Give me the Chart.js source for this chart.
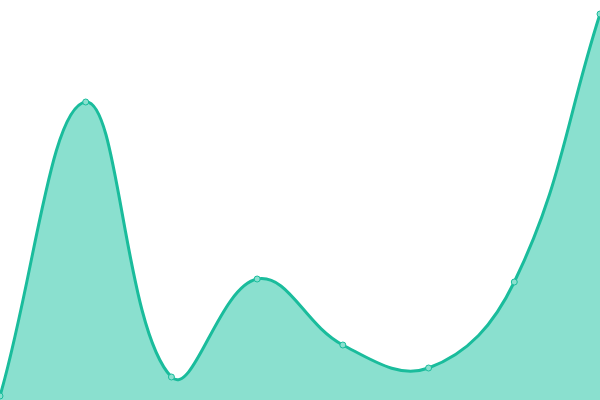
<!DOCTYPE html>
<html>
<head>
<meta charset="utf-8">
<script src="https://cdn.jsdelivr.net/npm/chart.js@4"></script>
<style>
  html, body { margin: 0; padding: 0; background: #fff; }
  #wrap { width: 600px; height: 400px; }
</style>
</head>
<body>
<div id="wrap"><canvas id="area_chart"></canvas></div>
<script>
// data
var labels = ["1", "2", "3", "4", "5", "6", "7", "8"];
var values = [1, 74.5, 5.75, 30.25, 13.75, 8, 29.5, 96.5];
var yMin = 0;
var yMax = 100;

var ctx = document.getElementById("area_chart");
var myChart = new Chart(ctx, {
    type: 'line',
    data: {
        labels: labels,
        datasets: [{
            data: values,
            fill: 'start',
            tension: 0.4,
            borderWidth: 3,
            borderColor: 'rgb(26, 188, 156)',
            backgroundColor: 'rgb(138, 224, 207)',
            pointRadius: 3,
            pointBorderWidth: 1,
            pointBorderColor: 'rgb(26, 188, 156)',
            pointBackgroundColor: 'rgb(138, 224, 207)'
        }]
    },
    options: {
        responsive: true,
        maintainAspectRatio: false,
        animation: false,
        layout: { padding: 0, autoPadding: false },
        plugins: {
            legend: { display: false },
            tooltip: { enabled: false }
        },
        scales: {
            x: { display: false },
            y: { display: false, min: yMin, max: yMax }
        }
    }
});
</script>
</body>
</html>
